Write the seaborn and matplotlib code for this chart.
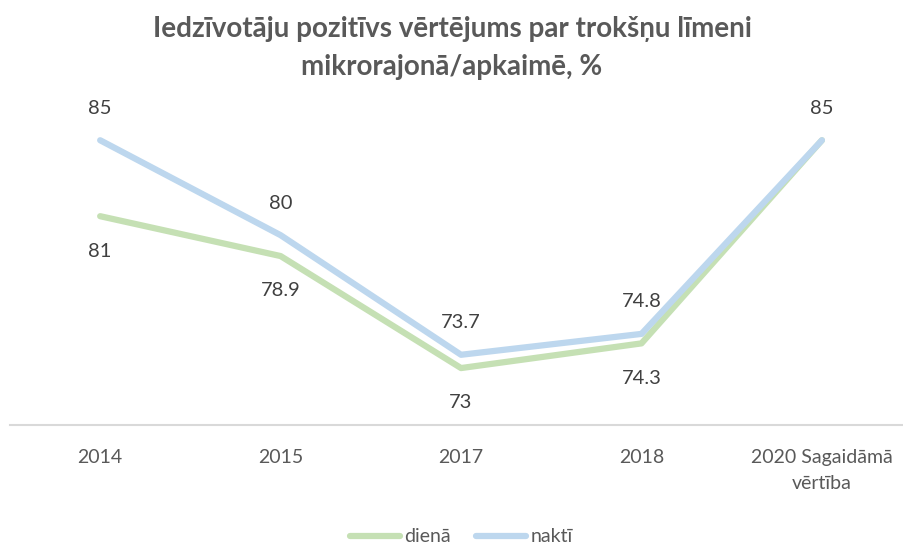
import pandas as pd
import seaborn as sns
import matplotlib.pyplot as plt

years = ["2014", "2015", "2017", "2018", "2020 Sagaidāmā\nvērtība"]
diena = [81, 78.9, 73, 74.3, 85]
nakti = [85, 80, 73.7, 74.8, 85]

df = pd.DataFrame({"gads": years * 2,
                   "vertiba": diena + nakti,
                   "laiks": ["dienā"] * len(years) + ["naktī"] * len(years)})

sns.set_style("white")
plt.rcParams["font.family"] = ["Lato", "DejaVu Sans"]
grey = "#595959"

fig = plt.figure(figsize=(9.04, 5.47), dpi=100)
ax = fig.add_axes([0.011, 0.223, 0.998, 0.59])
sns.lineplot(data=df, x="gads", y="vertiba", hue="laiks", sort=False,
             palette={"dienā": "#C5E0B4", "naktī": "#BDD7EE"},
             linewidth=4.5, ax=ax, legend=True)

# data labels: dienā under the line, naktī above
for i, v in enumerate(diena[:-1]):
    ax.annotate(f"{v:g}", (i, v), xytext=(0, -19), textcoords="offset points",
                ha="center", va="top", fontsize=14.5, color="#404040")
for i, v in enumerate(nakti):
    ax.annotate(f"{v:g}", (i, v), xytext=(0, 17), textcoords="offset points",
                ha="center", va="bottom", fontsize=14.5, color="#404040")

ax.set_ylim(70, 87)
ax.set_xlim(-0.5, 4.5)
ax.set_yticks([])
ax.set_xlabel("")
ax.set_ylabel("")
for s in ["top", "right", "left"]:
    ax.spines[s].set_visible(False)
ax.spines["bottom"].set_color("#D9D9D9")
ax.spines["bottom"].set_linewidth(1.5)
ax.tick_params(axis="x", length=0, pad=17, labelsize=14, labelcolor=grey)
for lbl in ax.get_xticklabels():
    lbl.set_linespacing(1.7)

fig.suptitle("Iedzīvotāju pozitīvs vērtējums par trokšņu līmeni\nmikrorajonā/apkaimē, %",
             y=0.97, fontsize=20, fontweight="bold", color=grey, linespacing=1.55)

leg = ax.legend(loc="lower center", bbox_to_anchor=(0.5, -0.415), ncol=2, frameon=False,
                fontsize=14, handlelength=2.6, columnspacing=1.3, handletextpad=0.2,
                borderpad=0.2)
for t in leg.get_texts():
    t.set_color(grey)

fig.savefig("out.png", dpi=100)
